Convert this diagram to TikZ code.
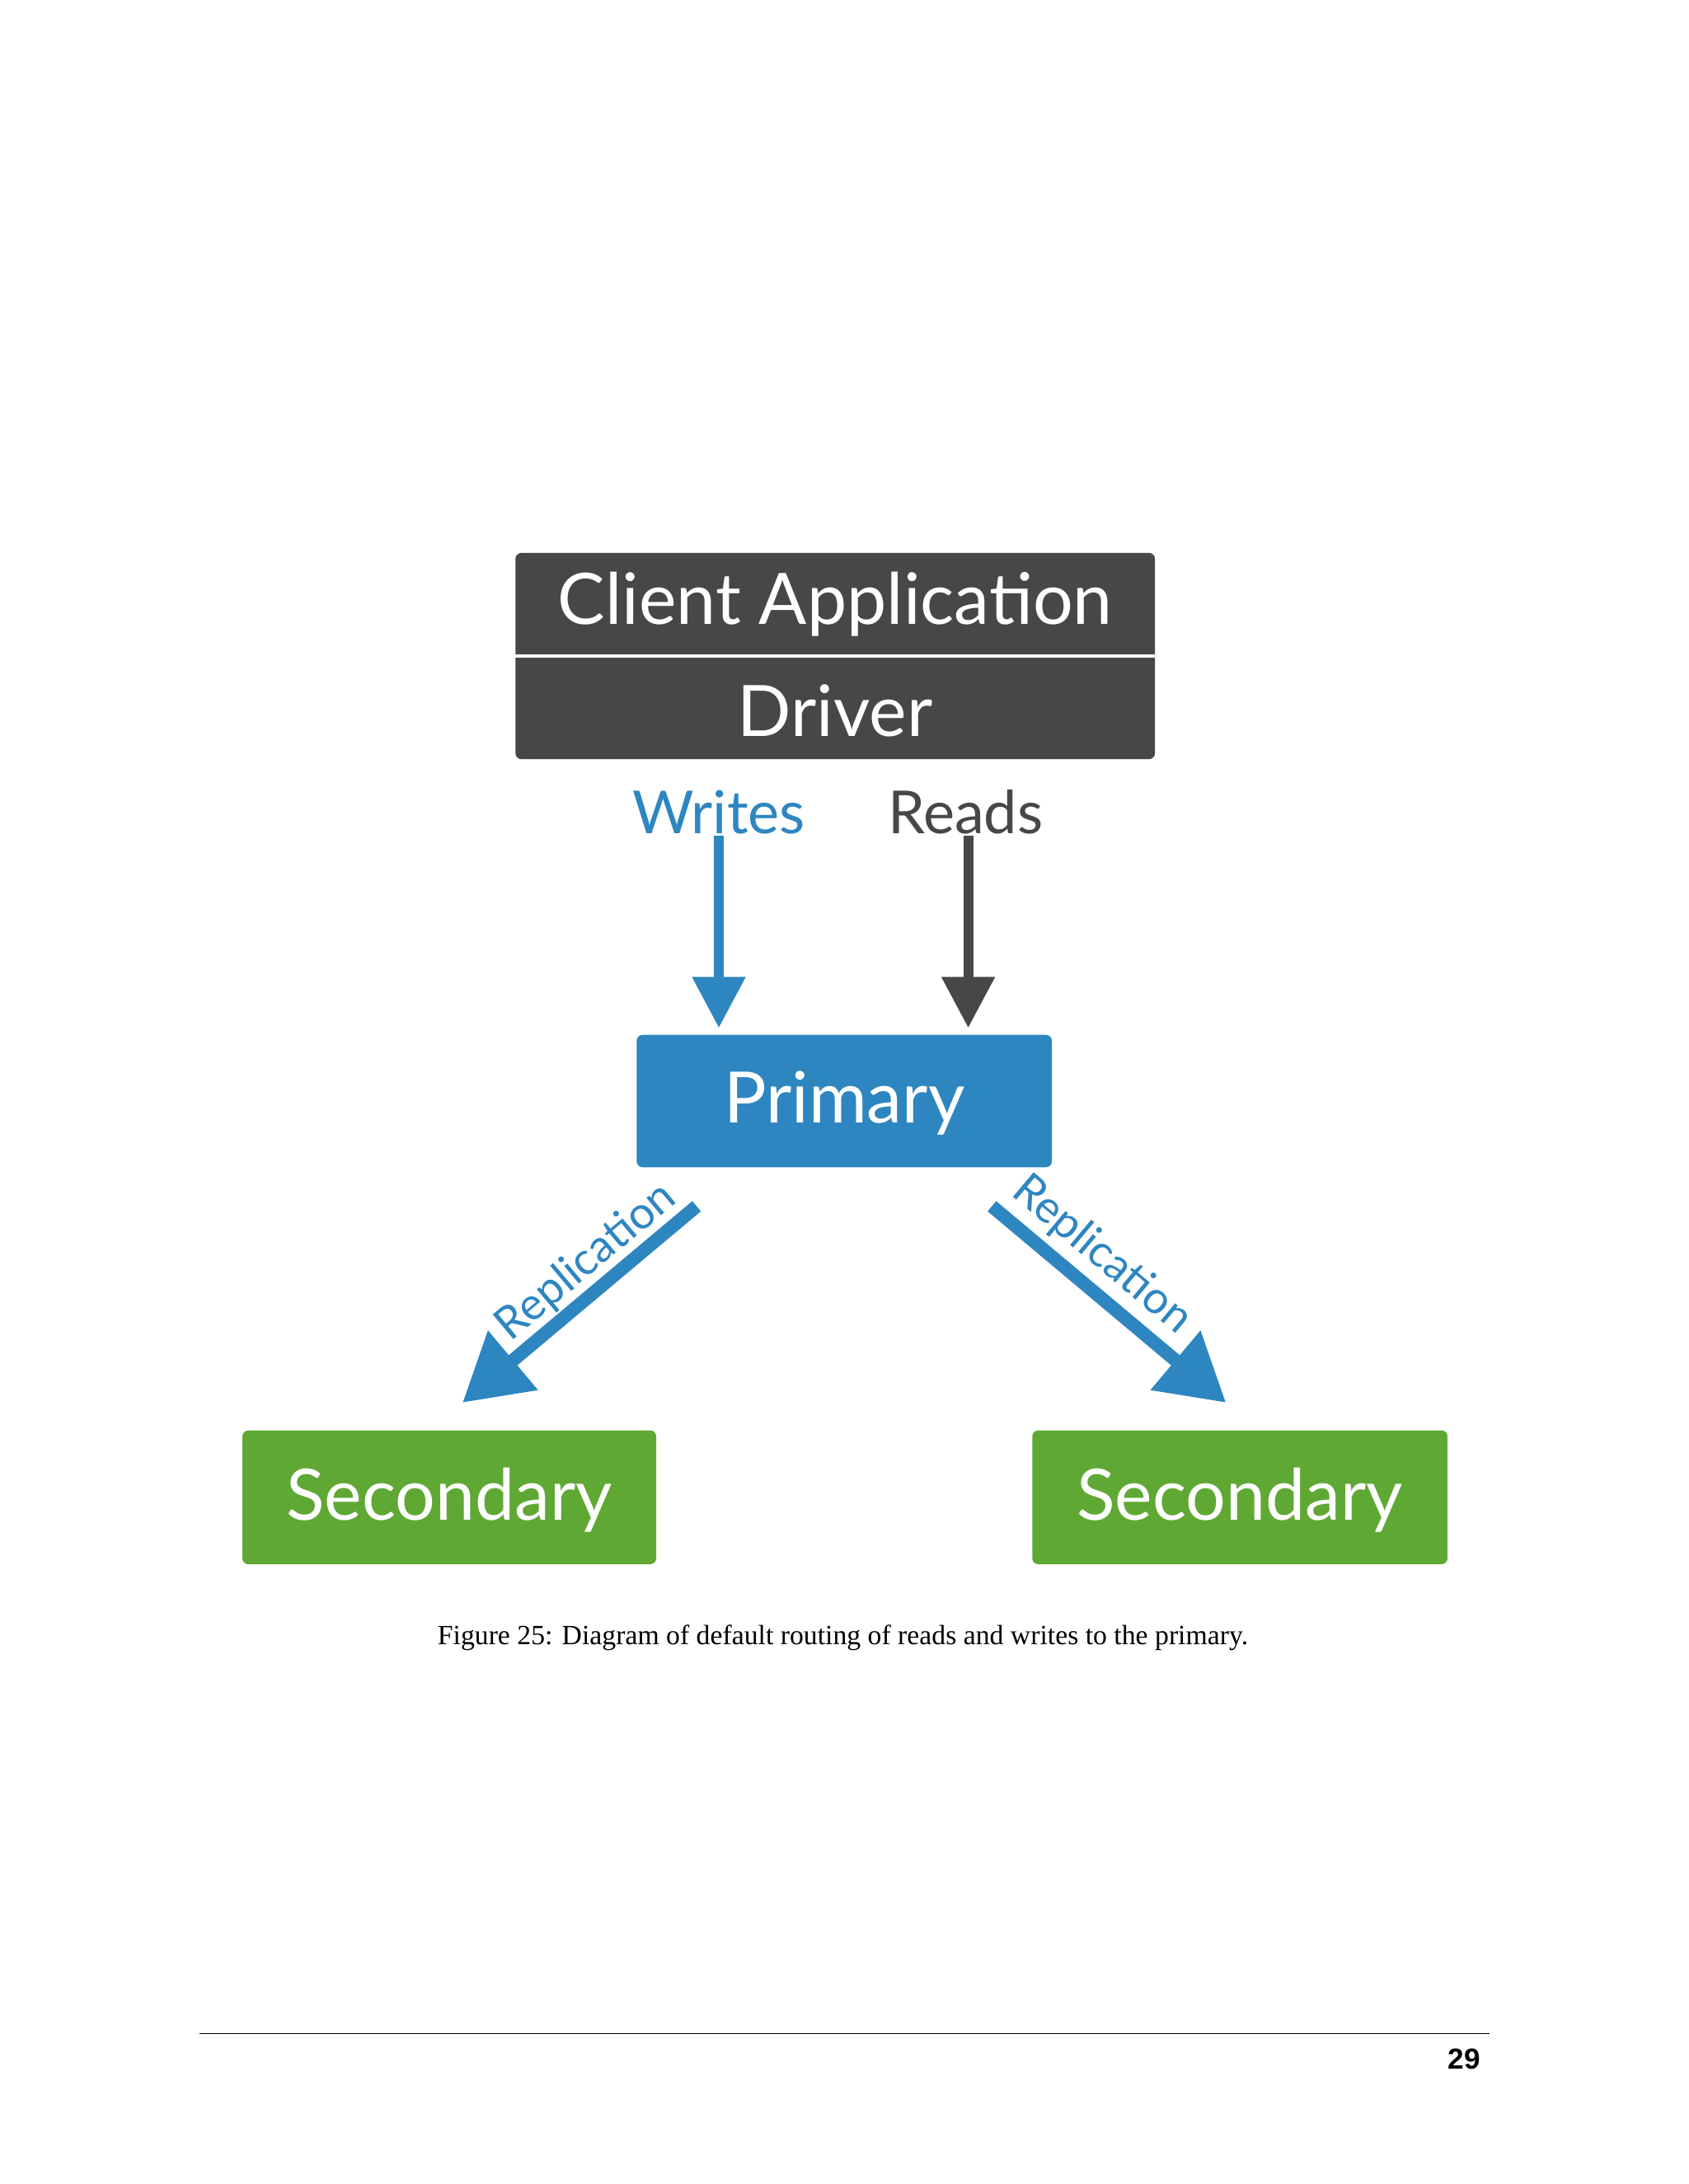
\documentclass[tikz,border=0pt]{standalone}
\usepackage{fontspec}
\setmainfont{Liberation Serif}
\newfontfamily\gill{Lato}
\newfontfamily\hel{Liberation Sans}
\usetikzlibrary{arrows.meta}
\definecolor{dark}{HTML}{474747}
\definecolor{mblue}{HTML}{2E86C1}
\definecolor{mgreen}{HTML}{5FA834}
\tikzset{
  box/.style={text=white,font=\gill\fontsize{24.5}{28}\selectfont,inner sep=0pt},
  lbl/.style={font=\gill\fontsize{20.5}{24}\selectfont},
  rep/.style={font=\gill\fontsize{15.5}{19}\selectfont,text=mblue},
  down/.style={line width=3.4pt,-{Triangle[width=0.62cm,length=0.62cm]}},
  diag/.style={line width=4.6pt,mblue,-{Triangle[width=0.9cm,length=0.8cm]}}
}
\begin{document}
\begin{tikzpicture}[x=0.0169cm,y=-0.0169cm]
\useasboundingbox[fill=white] (0,0) rectangle (1212,1568);
% client / driver
\fill[dark,rounded corners=2pt] (370,397) rectangle (829,545);
\draw[white,line width=1pt] (370,471) -- (829,471);
\node[box] (client) at (599.5,434) {Client Application};
\node[box] (driver) at (599.5,510) {Driver};
% labels
\node[lbl,text=mblue] (writes) at (516,583) {Writes};
\node[lbl,text=dark] (reads) at (693,583) {Reads};
% primary
\fill[mblue,rounded corners=2pt] (457,743) rectangle (755,838);
\node[box] (primary) at (606,792) {Primary};
% secondaries
\fill[mgreen,rounded corners=2pt] (174,1027) rectangle (471,1123);
\fill[mgreen,rounded corners=2pt] (741,1027) rectangle (1039,1123);
\node[box] (sec1) at (322.5,1077) {Secondary};
\node[box] (sec2) at (890,1077) {Secondary};
% arrows
\coordinate (w1) at (516,600); \coordinate (w2) at (516,738);
\coordinate (r1) at (695,600); \coordinate (r2) at (695,738);
\draw[down,mblue] (w1) -- (w2);
\draw[down,dark] (r1) -- (r2);
\coordinate (l1) at (500,866); \coordinate (l2) at (332,1007);
\coordinate (q1) at (712,866); \coordinate (q2) at (880,1007);
\draw[diag] (l1) -- (l2);
\draw[diag] (q1) -- (q2);
\node[rep,rotate=40] (repl) at (421,906) {Replication};
\node[rep,rotate=-40] (repr) at (791,901) {Replication};
% caption and footer
\node[font=\fontsize{9.6}{12}\selectfont] (cap) at (605,1176) {Figure 25: Diagram of default routing of reads and writes to the primary.};
\draw[line width=0.5pt] (143,1460) -- (1069,1460);
\node[font=\hel\bfseries\fontsize{10}{12}\selectfont,anchor=east] (pg) at (1070,1478) {29};
\end{tikzpicture}
\end{document}
